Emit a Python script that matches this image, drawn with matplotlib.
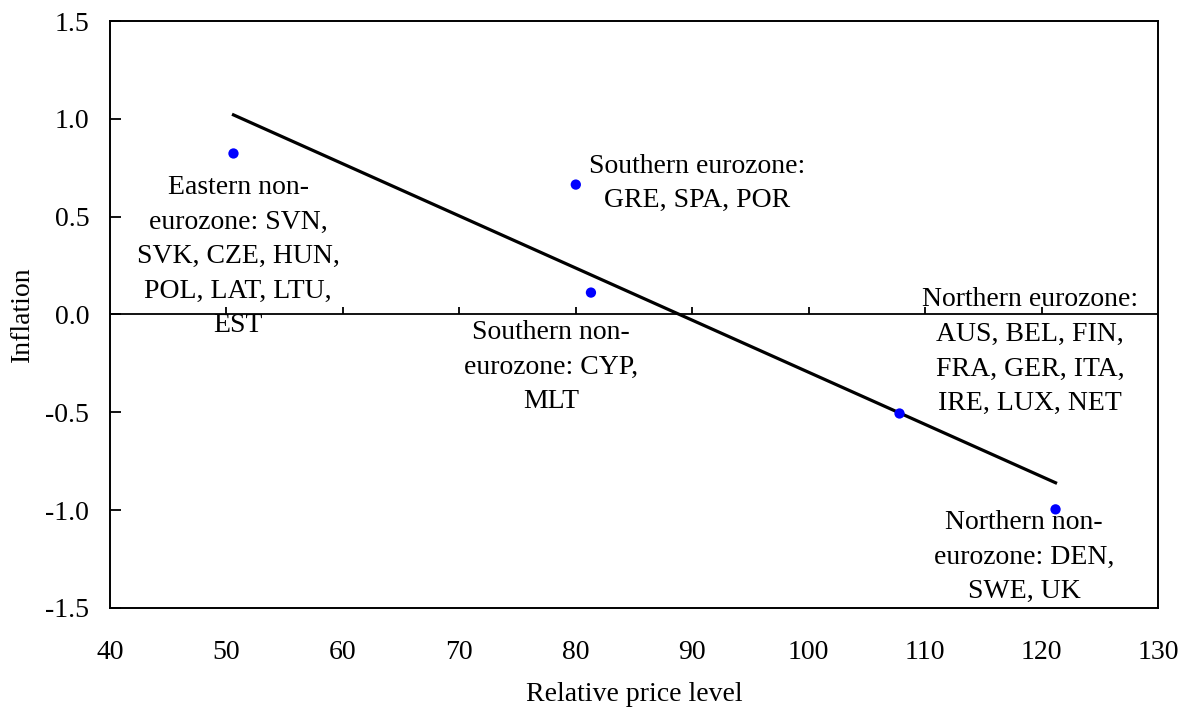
import matplotlib
matplotlib.use("Agg")
import matplotlib.pyplot as plt
import numpy as np
from matplotlib.ticker import FormatStrFormatter

plt.rcParams['font.family'] = ['Liberation Serif', 'DejaVu Serif']
plt.rcParams['axes.unicode_minus'] = False

# group averages: relative price level vs inflation
price_level = [50.6, 80.0, 81.3, 107.8, 121.2]
inflation = [0.823, 0.664, 0.112, -0.506, -0.996]
group_labels = ["Eastern non-\neurozone: SVN,\nSVK, CZE, HUN,\nPOL, LAT, LTU,\nEST",
                "Southern eurozone:\nGRE, SPA, POR",
                "Southern non-\neurozone: CYP,\nMLT",
                "Northern eurozone:\nAUS, BEL, FIN,\nFRA, GER, ITA,\nIRE, LUX, NET",
                "Northern non-\neurozone: DEN,\nSWE, UK"]
label_pos = [(51.0, 0.296), (90.4, 0.67), (77.9, -0.27), (119.0, -0.19), (118.5, -1.24)]

x_ticks = [40, 50, 60, 70, 80, 90, 100, 110, 120, 130]
y_ticks = [-1.5, -1.0, -0.5, 0.0, 0.5, 1.0, 1.5]

fig = plt.figure(figsize=(11.91, 7.10), dpi=100)
ax = fig.add_axes([0.0924, 0.1437, 0.8799, 0.8267])

# linear trend through the group points
coef = np.polyfit(price_level, inflation, 1)
xl = np.array([min(price_level), max(price_level)])
ax.plot(xl, np.polyval(coef, xl), color='black', lw=2.3, zorder=4)

ax.scatter(price_level, inflation, color='#0000FF', s=55, zorder=5, edgecolors='none')

# horizontal axis at zero with upward tick marks
ax.axhline(0, color='black', lw=1.3, zorder=3)
ax.vlines(x_ticks[1:-1], 0, 0.04, color='black', lw=1.3, zorder=3)

for txt, (tx, ty) in zip(group_labels, label_pos):
    ax.text(tx, ty, txt, ha='center', va='center', fontsize=20, linespacing=1.5, zorder=2)

ax.set_xlim(40, 130)
ax.set_ylim(-1.5, 1.5)
ax.set_xticks(x_ticks)
ax.set_yticks(y_ticks)
ax.yaxis.set_major_formatter(FormatStrFormatter('%.1f'))
ax.tick_params(axis='x', length=0, pad=23, labelsize=20)
ax.tick_params(axis='y', direction='in', length=8, width=1.3, pad=15, labelsize=20)
for s in ax.spines.values():
    s.set_linewidth(1.4)

ax.set_xlabel("Relative price level", fontsize=20)
ax.set_ylabel("Inflation", fontsize=20)
ax.xaxis.set_label_coords(0.5, -0.147)
ax.xaxis.label.set_va('center')
ax.yaxis.set_label_coords(-0.084, 0.5)
ax.yaxis.label.set_va('center')

fig.savefig("out.png", dpi=100)
